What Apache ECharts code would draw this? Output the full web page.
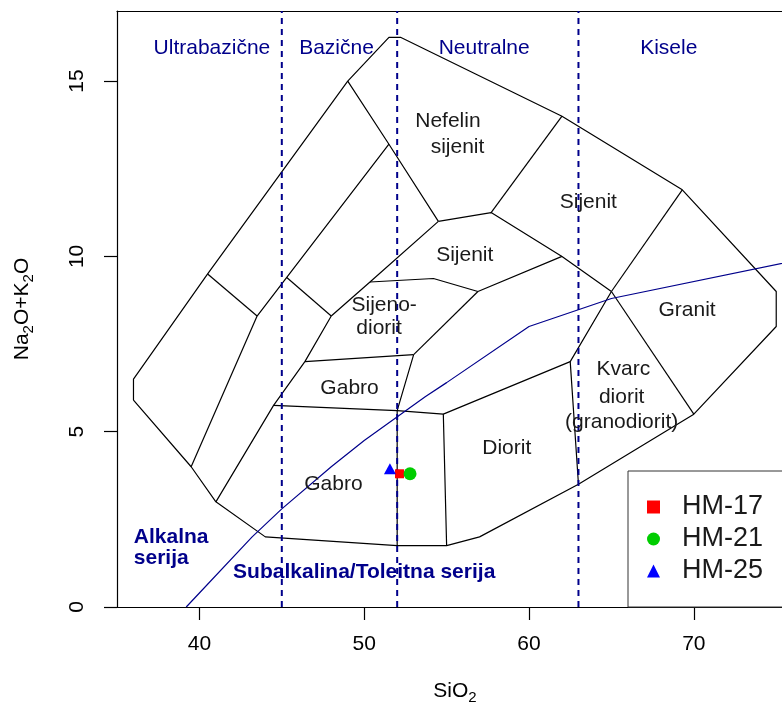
<!DOCTYPE html>
<html><head><meta charset="utf-8">
<script src="https://cdn.jsdelivr.net/npm/echarts@6/dist/echarts.min.js"></script>
<style>html,body{margin:0;padding:0;background:#fff;overflow:hidden}#c{width:782px;height:710px}</style>
</head><body><div id="c"></div>
<script>
const FONT = '"Liberation Sans", Arial, Helvetica, sans-serif';
const NAVY = '#00008B';

// axis ranges and ticks
const xMin = 35, xMax = 75.35, yMin = 0, yMax = 17;
const xTicks = [40, 50, 60, 70];
const yTicks = [0, 5, 10, 15];

// outer envelope of the TAS (plutonic) classification fields
const outerBoundary = [[36,5.9],[36,6.5],[40.5,9.5],[49,15],[51.5,16.25],[52.2,16.25],[62,14],[69.3,11.9],[75,9],[75,8],[70,5.5],[63,3.5],[57,2],[55,1.75],[52,1.75],[44,2],[41,3],[39.5,4],[36,5.9]];

// internal field boundaries
const fieldLines = [
  [[40.5,9.5],[43.5,8.3]],
  [[43.5,8.3],[39.5,4]],
  [[49,15],[51.5,13.2],[54.5,11]],
  [[43.5,8.3],[45.3,9.4],[51.5,13.2]],
  [[45.3,9.4],[48,8.3]],
  [[48,8.3],[50.35,9.27],[54.5,11]],
  [[48,8.3],[46.4,7.0],[44.5,5.75],[41,3]],
  [[46.4,7.0],[53,7.2]],
  [[44.5,5.75],[52,5.6],[54.8,5.5]],
  [[53,7.2],[52,5.6],[52,1.75]],
  [[50.35,9.27],[54.2,9.37],[56.9,9.0]],
  [[56.9,9.0],[53,7.2]],
  [[56.9,9.0],[62,10],[65,9]],
  [[62,10],[57.7,11.25],[54.5,11]],
  [[57.7,11.25],[62,14]],
  [[65,9],[69.3,11.9]],
  [[65,9],[70,5.5]],
  [[65,9],[62.5,7.0],[63,3.5]],
  [[62.5,7.0],[54.8,5.5],[55,1.75]]
];

// SiO2 class dividers (ultrabasic / basic / intermediate / acid)
const silicaDividers = [45, 52, 63];

// alkaline / subalkaline divider
const alkalineDivider = [[39.2,0],[40,0.4],[43.2,2],[45,2.8],[48,4],[50,4.75],[53.7,6],[55,6.4],[60,8],[65,8.8],[77.4,10]];

// labels [x, y, text]
const zoneLabels = [[40.76,15.95,'Ultrabazične'],[48.32,15.93,'Bazične'],[57.28,15.95,'Neutralne'],[68.48,15.95,'Kisele']];
const rockLabels = [
  [55.08,13.86,'Nefelin'],[55.66,13.12,'sijenit'],
  [63.6,11.55,'Sijenit'],[56.1,10.04,'Sijenit'],
  [51.21,8.61,'Sijeno-'],[50.9,7.95,'diorit'],
  [49.11,6.25,'Gabro'],[48.13,3.49,'Gabro'],
  [58.65,4.54,'Diorit'],
  [65.72,6.77,'Kvarc'],[65.62,5.98,'diorit'],[65.62,5.27,'(granodiorit)'],
  [69.59,8.47,'Granit']
];
const seriesLabelsLeft = [[35.99,2.0,'Alkalna'],[35.99,1.39,'serija']];
const seriesLabelsCenter = [[50.0,0.99,'Subalkalina/Toleitna serija']];

// samples
const sampleNames = ['HM-17','HM-21','HM-25'];
const hm17 = [[52.14,3.8]];
const hm21 = [[52.78,3.8]];
const hm25 = [[51.56,3.94]];

const blackLine = {color:'#000', width:1.2};
const lineSeries = (data, style, z) => ({type:'line', data, symbol:'none', silent:true, lineStyle:style, z, animation:false});

const series = [];
series.push(lineSeries(outerBoundary, blackLine, 2));
fieldLines.forEach(l => series.push(lineSeries(l, blackLine, 2)));
silicaDividers.forEach(x => series.push(lineSeries([[x,yMin],[x,yMax]], {color:NAVY, width:2, type:[6,5]}, 3)));
series.push(lineSeries(alkalineDivider, {color:NAVY, width:1.2}, 3));

const labelSeries = (data, label) => ({
  type:'scatter', data, symbolSize:1, silent:true, animation:false, z:4,
  itemStyle:{color:'rgba(0,0,0,0)', opacity:1},
  label:Object.assign({show:true, position:'inside', opacity:1, formatter:p=>p.data[2], fontFamily:FONT, fontSize:21}, label)
});
series.push(labelSeries(zoneLabels, {color:NAVY}));
series.push(labelSeries(rockLabels, {color:'#1a1a1a'}));
series.push(labelSeries(seriesLabelsLeft, {color:NAVY, fontWeight:'bold', position:'right', distance:0}));
series.push(labelSeries(seriesLabelsCenter, {color:NAVY, fontWeight:'bold'}));

const sampleSeries = (name, data, symbol, size, color) => ({
  type:'scatter', name, data, symbol, symbolSize:size, symbolKeepAspect:true,
  itemStyle:{color, opacity:1}, z:5, animation:false, silent:true
});
series.push(sampleSeries(sampleNames[0], hm17, 'rect', 9, '#FF0000'));
series.push(sampleSeries(sampleNames[1], hm21, 'circle', 13, '#00CD00'));
series.push(sampleSeries(sampleNames[2], hm25, 'triangle', [12,11], '#0000FF'));

const axisLineStyle = {color:'#000', width:1.2};
const richTitle = {
  a:{fontSize:21, fontFamily:FONT, color:'#000', lineHeight:28},
  b:{fontSize:15, fontFamily:FONT, color:'#000', lineHeight:20, verticalAlign:'bottom'}
};

const option = {
  animation:false,
  backgroundColor:'#fff',
  grid:{left:117, top:11, right:0, bottom:97, containLabel:false},
  xAxis:[{
    type:'value', min:xMin, max:xMax, position:'bottom',
    axisLine:{show:true, onZero:false, lineStyle:axisLineStyle},
    axisTick:{show:true, length:13, customValues:xTicks, lineStyle:axisLineStyle},
    axisLabel:{show:true, customValues:xTicks, fontSize:21, fontFamily:FONT, color:'#000', margin:27},
    splitLine:{show:false},
    name:'{a|SiO}{b|2}', nameLocation:'middle', nameGap:70,
    nameTextStyle:{rich:richTitle, padding:[0,0,0,11]}
  },{
    type:'value', min:xMin, max:xMax, position:'top',
    axisLine:{show:true, onZero:false, lineStyle:axisLineStyle},
    axisTick:{show:false}, axisLabel:{show:false}, splitLine:{show:false}
  }],
  yAxis:{
    type:'value', min:yMin, max:yMax,
    axisLine:{show:true, onZero:false, lineStyle:axisLineStyle},
    axisTick:{show:true, length:13, customValues:yTicks, lineStyle:axisLineStyle},
    axisLabel:{show:true, customValues:yTicks, rotate:90, fontSize:21, fontFamily:FONT, color:'#000', margin:29},
    splitLine:{show:false},
    name:'{a|Na}{b|2}{a|O+K}{b|2}{a|O}', nameLocation:'middle', nameGap:81, nameRotate:90,
    nameTextStyle:{rich:richTitle}
  },
  legend:{
    data:sampleNames, orient:'vertical', left:628, top:471,
    itemWidth:13, itemHeight:13, itemGap:0,
    padding:[20,60,20,19], borderColor:'#333', borderWidth:1, backgroundColor:'#fff',
    selectedMode:false,
    textStyle:{fontSize:27, fontFamily:FONT, color:'#1a1a1a', lineHeight:32, padding:[0,0,0,17]}
  },
  series
};

const chart = echarts.init(document.getElementById('c'), null, {renderer:'canvas'});
chart.setOption(option);
</script></body></html>
